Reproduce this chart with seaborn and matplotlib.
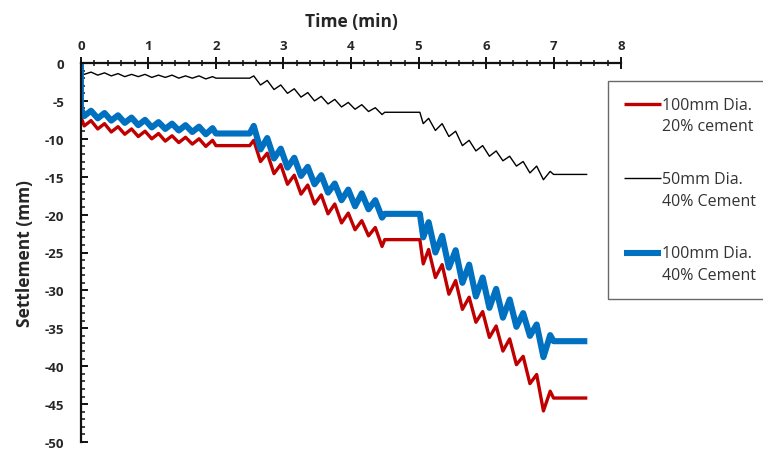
import numpy as np
import pandas as pd
import seaborn as sns
import matplotlib.pyplot as plt
from matplotlib.ticker import MultipleLocator
from matplotlib.legend_handler import HandlerLine2D

# shared sample times (min): start drop, phase A, hold, phase C, hold, phase E, hold
time_min = [0, 0, 0.05, 0.15, 0.25, 0.35, 0.45, 0.55, 0.65, 0.75, 0.85, 0.95,
            1.05, 1.15, 1.25, 1.35, 1.45, 1.55, 1.65, 1.75, 1.85, 1.95,
            2.0, 2.5,
            2.56, 2.66, 2.76, 2.86, 2.96, 3.06, 3.16, 3.26, 3.36, 3.46,
            3.56, 3.66, 3.76, 3.86, 3.96, 4.06, 4.16, 4.26, 4.36, 4.46,
            4.5, 5.02,
            5.07, 5.15, 5.25, 5.35, 5.45, 5.55, 5.65, 5.75, 5.85, 5.95,
            6.05, 6.15, 6.25, 6.35, 6.45, 6.55, 6.65, 6.75, 6.85, 6.95,
            7.0, 7.5]

red_100mm_20 = [0, -7.1, -8.3, -7.6, -8.7, -8.0, -9.1, -8.4, -9.4, -8.7, -9.7, -9.0,
                -10.0, -9.3, -10.3, -9.6, -10.5, -9.8, -10.7, -10.0, -11.0, -10.2,
                -10.9, -10.9,
                -10.2, -13.0, -11.9, -14.6, -13.4, -16.0, -14.8, -17.3, -16.1, -18.6,
                -17.4, -19.9, -18.6, -21.1, -19.8, -22.0, -20.8, -22.8, -21.7, -24.2,
                -23.3, -23.3,
                -26.5, -24.6, -28.3, -26.6, -30.5, -28.7, -32.5, -30.9, -34.2, -32.8,
                -36.2, -34.7, -38.0, -36.4, -39.8, -38.7, -42.3, -41.1, -45.9, -43.3,
                -44.2, -44.2]

black_50mm_40 = [0, -1.2, -1.5, -1.2, -1.6, -1.3, -1.7, -1.4, -1.8, -1.5, -1.8, -1.5,
                 -1.9, -1.6, -1.9, -1.6, -2.0, -1.7, -2.0, -1.7, -2.1, -1.8,
                 -2.0, -2.0,
                 -1.7, -2.9, -2.3, -3.5, -2.9, -4.0, -3.4, -4.5, -3.9, -5.0,
                 -4.4, -5.4, -4.8, -5.8, -5.2, -6.1, -5.5, -6.4, -5.9, -6.8,
                 -6.5, -6.5,
                 -8.0, -7.3, -8.9, -8.0, -9.7, -9.0, -10.9, -10.2, -11.6, -10.9,
                 -12.3, -11.6, -12.9, -12.3, -13.6, -13.0, -14.5, -13.6, -15.4, -14.3,
                 -14.7, -14.7]

blue_100mm_40 = [0, -6.0, -7.0, -6.3, -7.3, -6.6, -7.6, -6.9, -7.9, -7.2, -8.2, -7.5,
                 -8.5, -7.8, -8.7, -8.0, -8.9, -8.2, -9.1, -8.4, -9.4, -8.6,
                 -9.3, -9.3,
                 -8.3, -11.4, -9.9, -12.6, -11.3, -13.8, -12.5, -14.9, -13.7, -16.0,
                 -14.8, -17.1, -15.9, -18.1, -16.7, -18.9, -17.2, -19.3, -18.1, -20.4,
                 -19.9, -19.9,
                 -23.0, -21.0, -25.0, -22.8, -27.0, -24.7, -29.0, -26.6, -30.8, -28.3,
                 -32.3, -29.8, -33.6, -31.2, -34.8, -33.0, -36.0, -34.5, -38.8, -35.9,
                 -36.7, -36.7]

labels = ['100mm Dia.\n20% cement', '50mm Dia.\n40% Cement', '100mm Dia.\n40% Cement']
colors = ['#C00000', '#000000', '#0070C0']
widths = [2.4, 1.0, 4.4]

sns.set_style('ticks')
plt.rcParams['font.family'] = ['Open Sans', 'DejaVu Sans']
plt.rcParams['axes.unicode_minus'] = False


# legend handle sits on the first line of a two-line label
class FirstLineHandler(HandlerLine2D):
    def create_artists(self, legend, orig_handle, xdescent, ydescent, width, height, fontsize, trans):
        arts = super().create_artists(legend, orig_handle, xdescent, ydescent, width, height, fontsize, trans)
        for a in arts:
            a.set_ydata(np.asarray(a.get_ydata(), dtype=float) + 8.5)
        return arts


fig = plt.figure(figsize=(7.63, 4.52), dpi=100)
ax = fig.add_axes([0.106, 1 - 443 / 452, 0.708, (443 - 64) / 452])

for vals, lab, col, lw in zip([red_100mm_20, black_50mm_40, blue_100mm_40], labels, colors, widths):
    df = pd.DataFrame({'time': time_min, 'settlement': vals})
    sns.lineplot(data=df, x='time', y='settlement', estimator=None, sort=False,
                 color=col, linewidth=lw, label=lab, ax=ax,
                 solid_joinstyle='round', solid_capstyle='butt')

ax.set_xlim(0, 8)
ax.set_ylim(-50, 0)
ax.xaxis.tick_top()
ax.xaxis.set_label_position('top')
ax.set_xlabel('Time (min)', fontsize=12.5, fontweight='bold', labelpad=9)
ax.set_ylabel('Settlement (mm)', fontsize=12.5, fontweight='bold', labelpad=8)

ax.xaxis.set_major_locator(MultipleLocator(1))
ax.xaxis.set_minor_locator(MultipleLocator(0.2))
ax.yaxis.set_major_locator(MultipleLocator(5))
ax.yaxis.set_minor_locator(MultipleLocator(1))
ax.tick_params(axis='x', which='major', direction='inout', length=8, width=1.4, pad=4,
               labelsize=9.5, top=True, bottom=False, labeltop=True, labelbottom=False, color='#111111')
ax.tick_params(axis='x', which='minor', direction='inout', length=5, width=1.1,
               top=True, bottom=False, color='#111111')
ax.tick_params(axis='y', which='major', direction='in', length=5, width=1.4, pad=12,
               labelsize=9.5, left=True, color='#111111')
ax.tick_params(axis='y', which='minor', direction='in', length=3, width=1.1, left=True, color='#111111')
for t in ax.get_xticklabels() + ax.get_yticklabels():
    t.set_fontweight('bold')

for side in ['right', 'bottom']:
    ax.spines[side].set_visible(False)
for side in ['left', 'top']:
    ax.spines[side].set_linewidth(1.6)
    ax.spines[side].set_color('#111111')

handles, labs = ax.get_legend_handles_labels()
leg = ax.legend(handles, labs, loc='upper left', bbox_to_anchor=(608 / 763, 1 - 82 / 452),
                bbox_transform=fig.transFigure, frameon=True, fancybox=False,
                fontsize=11.5, handlelength=2.3, handletextpad=0.05,
                labelspacing=2.3, borderpad=1.0, borderaxespad=0,
                handler_map={h: FirstLineHandler() for h in handles})
leg.get_frame().set_edgecolor('#444444')
leg.get_frame().set_linewidth(1.0)
for t in leg.get_texts():
    t.set_linespacing(1.45)
    t.set_color('#333333')

fig.savefig('out.png', dpi=100)
